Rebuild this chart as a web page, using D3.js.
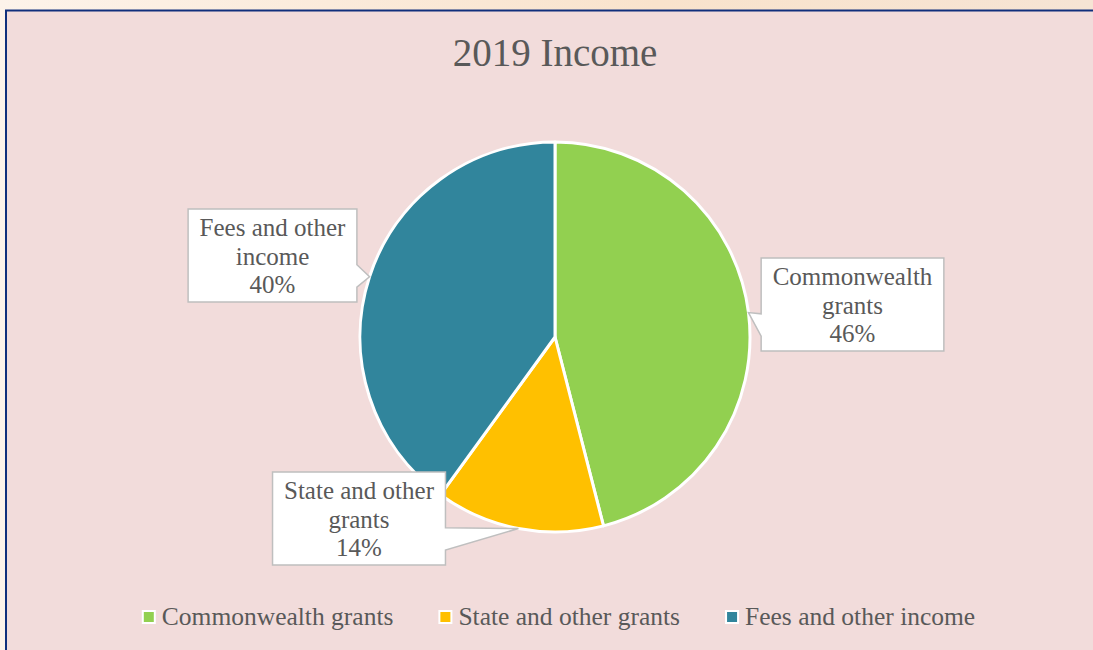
<!DOCTYPE html>
<html>
<head>
<meta charset="utf-8">
<script src="https://cdn.jsdelivr.net/npm/d3@7"></script>
<style>
  html, body { margin: 0; padding: 0; background: #fbeee2; }
  svg { display: block; }
  text { font-family: "Liberation Serif", "Times New Roman", serif; fill: #595959; }
</style>
</head>
<body>
<svg id="chart" width="1093" height="650"></svg>
<script>
// Income sources, 2019 (share of total, %)
const categories = ["Commonwealth grants", "State and other grants", "Fees and other income"];
const shares = [46, 14, 40];
const calloutLines = [["Commonwealth", "grants"], ["State and other", "grants"], ["Fees and other", "income"]];
const sliceColors = ["#92d050", "#ffc000", "#31859c"];
const chartTitle = "2019 Income";

const W = 1093, H = 650;
const svg = d3.select("#chart");

// soft backdrop behind the chart panel
const defs = svg.append("defs");
const bg = defs.append("linearGradient").attr("id", "backdrop").attr("x1", 0).attr("x2", 1);
bg.append("stop").attr("offset", "0").attr("stop-color", "#fdf3ea");
bg.append("stop").attr("offset", "0.6").attr("stop-color", "#f9e3cc");
bg.append("stop").attr("offset", "1").attr("stop-color", "#f6e4d4");
svg.append("rect").attr("width", W).attr("height", H).attr("fill", "url(#backdrop)");

// chart panel
svg.append("rect")
  .attr("x", 6).attr("y", 10.5)
  .attr("width", W + 20).attr("height", H + 20)
  .attr("fill", "#f2dcdb")
  .attr("stroke", "#102f7c").attr("stroke-width", 2);

// title
svg.append("text")
  .attr("x", 555).attr("y", 66)
  .attr("text-anchor", "middle")
  .style("font-size", "39px")
  .text(chartTitle);

// pie
const cx = 555, cy = 337, R = 195;
const pie = d3.pie().sort(null).value(d => d);
const arcs = pie(shares);
const arc = d3.arc().innerRadius(0).outerRadius(R);

const g = svg.append("g").attr("transform", `translate(${cx},${cy})`);
g.selectAll("path.slice")
  .data(arcs)
  .join("path")
  .attr("class", "slice")
  .attr("d", arc)
  .attr("fill", (d, i) => sliceColors[i])
  .attr("stroke", "#ffffff")
  .attr("stroke-width", 3)
  .attr("stroke-linejoin", "round");

// callout boxes (centre of each box, in chart coordinates)
const boxCentres = [[852.5, 304.5], [359, 518.5], [272.5, 255.5]];
const boxH = 93, padX = 11.5, lineH = 28.5, fontPx = 25;

const labels = svg.append("g");
arcs.forEach((a, i) => {
  const mid = (a.startAngle + a.endAngle) / 2;
  const tip = [cx + R * Math.sin(mid), cy - R * Math.cos(mid)];
  const lines = calloutLines[i].concat([shares[i] + "%"]);

  const grp = labels.append("g");
  const path = grp.append("path");
  const txt = grp.append("text")
    .attr("text-anchor", "middle")
    .style("font-size", fontPx + "px");
  lines.forEach((s, k) => {
    txt.append("tspan")
      .attr("x", boxCentres[i][0])
      .attr("y", boxCentres[i][1] - boxH / 2 + 27 + k * lineH)
      .text(s);
  });
  const widest = d3.max(txt.selectAll("tspan").nodes(), n => n.getComputedTextLength());
  const bw = widest + 2 * padX;
  const x0 = boxCentres[i][0] - bw / 2, x1 = x0 + bw;
  const y0 = boxCentres[i][1] - boxH / 2, y1 = y0 + boxH;
  const b0 = y0 + 0.6 * boxH, b1 = y0 + 0.84 * boxH;

  let d;
  if (tip[0] > x1) {
    // pointer leaves the right edge
    d = `M${x0},${y0}H${x1}V${b0}L${tip[0]},${tip[1]}L${x1},${b1}V${y1}H${x0}Z`;
  } else {
    // pointer leaves the left edge
    d = `M${x0},${y0}H${x1}V${y1}H${x0}V${b1}L${tip[0]},${tip[1]}L${x0},${b0}Z`;
  }
  path.attr("d", d)
    .attr("fill", "#ffffff")
    .attr("stroke", "#bfbfbf")
    .attr("stroke-width", 1.5)
    .attr("stroke-linejoin", "miter");
  txt.raise();
});

// legend
const legend = svg.append("g");
const legendY = 625;
const items = categories.map((c, i) => {
  const it = legend.append("g");
  it.append("rect")
    .attr("x", 1).attr("y", -14)
    .attr("width", 12).attr("height", 12)
    .attr("fill", sliceColors[i])
    .attr("stroke", "#ffffff").attr("stroke-width", 2);
  const t = it.append("text")
    .style("font-size", "25.5px")
    .attr("x", 20).attr("y", 0)
    .text(c);
  return { g: it, w: 20 + t.node().getComputedTextLength() };
});
const gap = 45;
const total = d3.sum(items, d => d.w) + gap * (items.length - 1);
let lx = 558.5 - total / 2;
items.forEach(it => {
  it.g.attr("transform", `translate(${lx},${legendY})`);
  lx += it.w + gap;
});
</script>
</body>
</html>
